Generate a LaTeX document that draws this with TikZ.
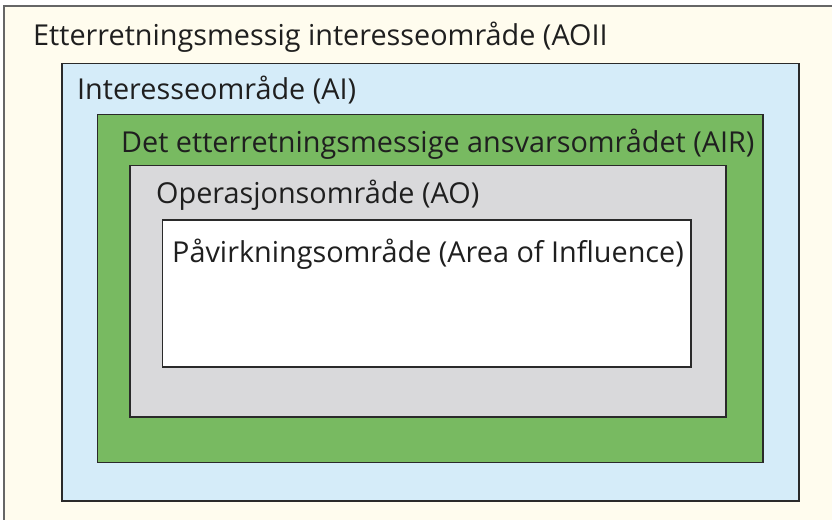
\documentclass[tikz,border=0pt]{standalone}
\usepackage{fontspec}
\setmainfont{Open Sans}
\definecolor{cream}{HTML}{FFFCEE}
\definecolor{skyblue}{HTML}{D5ECF9}
\definecolor{fieldgreen}{HTML}{78BA61}
\definecolor{lightgray}{HTML}{D9D9DB}
\definecolor{edge}{HTML}{2A2A2A}
\tikzset{
  area/.style={draw=edge, line width=1.5pt},
  lbl/.style={anchor=base west, inner sep=0pt, font=\fontsize{28.8}{32}\selectfont, text=black!88}
}
\begin{document}
\begin{tikzpicture}[x=1pt,y=-1pt]
\useasboundingbox (0,0) rectangle (832,519);
\clip (0,0) rectangle (832,519);
\fill[white] (0,0) rectangle (832,519);
\draw[fill=cream, draw=black!60, line width=2pt] (4,6) rectangle (845,530);
\draw[area, fill=skyblue] (62,63.5) rectangle (799,501);
\draw[area, fill=fieldgreen] (97.5,114.5) rectangle (763,462.5);
\draw[area, fill=lightgray] (130,165.5) rectangle (726,417);
\draw[area, fill=white] (162.5,220) rectangle (691,367);
\node[lbl] (aoii) at (33,46) {Etterretningsmessig interesseområde (AOII};
\node[lbl] (ai) at (77,99.5) {Interesseområde (AI)};
\node[lbl] (air) at (121,152) {Det etterretningsmessige ansvarsområdet (AIR)};
\node[lbl] (ao) at (156,203) {Operasjonsområde (AO)};
\node[lbl] (aoi) at (172,262) {Påvirkningsområde (Area of Influence)};
\end{tikzpicture}
\end{document}
